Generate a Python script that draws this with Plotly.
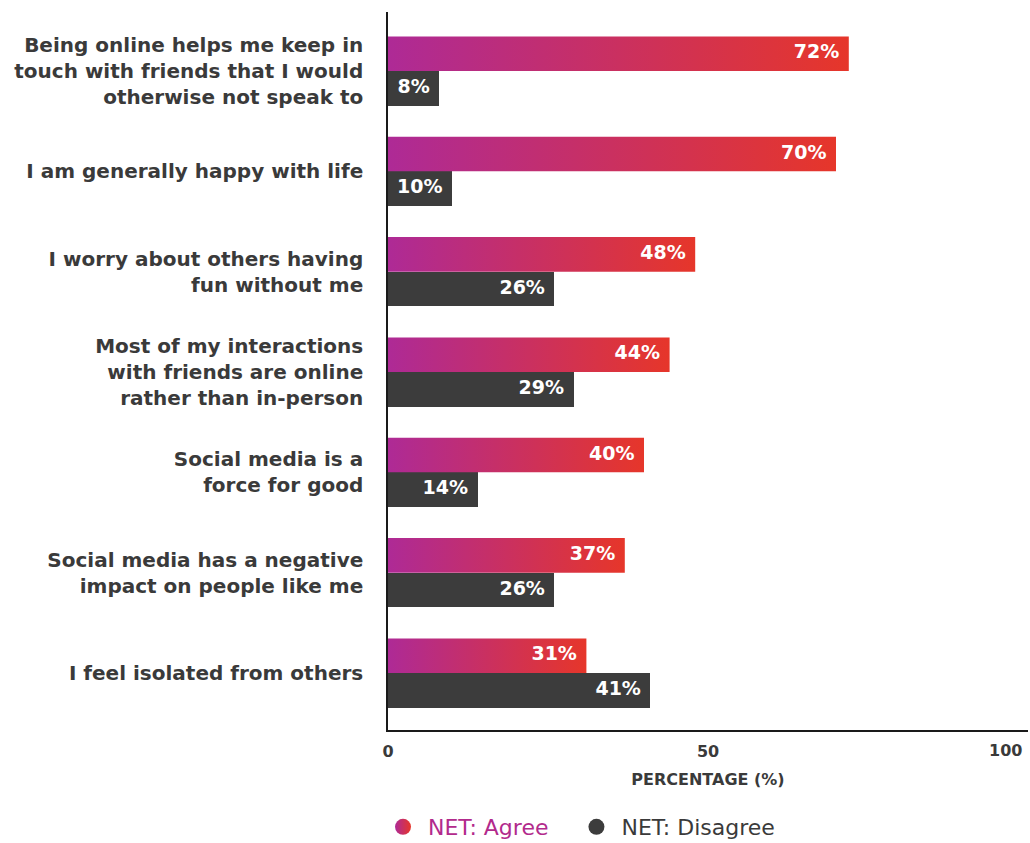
import plotly.graph_objects as go

categories = [
    "Being online helps me keep in<br>touch with friends that I would<br>otherwise not speak to",
    "I am generally happy with life",
    "I worry about others having<br>fun without me",
    "Most of my interactions<br>with friends are online<br>rather than in-person",
    "Social media is a<br>force for good",
    "Social media has a negative<br>impact on people like me",
    "I feel isolated from others",
]
agree = [72, 70, 48, 44, 40, 37, 31]
disagree = [8, 10, 26, 29, 14, 26, 41]
x_tickvals = [0, 50, 100]
x_ticktext = ["0", "50", "100"]

AGREE_LEFT = "#ae2a96"
AGREE_RIGHT = "#e6362a"
DIS_COLOR = "#3c3c3c"
TEXT_COLOR = "#3a3a3a"
FONT = "DejaVu Sans"
BW = 0.345

n = len(categories)
centers = [n - 1 - i for i in range(n)]

fig = go.Figure()

# Agree bars as gradient-filled polygons (one per bar so each gradient spans its own bar)
for c, v in zip(centers, agree):
    fig.add_trace(go.Scatter(
        x=[0, v, v, 0, 0],
        y=[c, c, c + BW, c + BW, c],
        mode="lines",
        line=dict(width=0),
        fill="toself",
        fillgradient=dict(type="horizontal",
                          colorscale=[[0, AGREE_LEFT], [1, AGREE_RIGHT]]),
        showlegend=False,
        hoverinfo="skip",
    ))

# Disagree bars
fig.add_trace(go.Bar(
    x=disagree,
    y=[c - BW / 2 for c in centers],
    width=BW,
    orientation="h",
    marker=dict(color=DIS_COLOR, line=dict(width=0)),
    showlegend=False,
    hovertemplate="%{x}%<extra>NET: Disagree</extra>",
))

# Value labels
label_font = dict(family=FONT, size=19, color="white", weight="bold")
fig.add_trace(go.Scatter(
    x=agree,
    y=[c + BW / 2 for c in centers],
    mode="text",
    text=[f"{v}%\u2002" for v in agree],
    textposition="middle left",
    textfont=label_font,
    showlegend=False,
    hoverinfo="skip",
))
fig.add_trace(go.Scatter(
    x=disagree,
    y=[c - BW / 2 for c in centers],
    mode="text",
    text=[f"{v}%\u2002" for v in disagree],
    textposition="middle left",
    textfont=label_font,
    showlegend=False,
    hoverinfo="skip",
))

# Legend entries
fig.add_trace(go.Scatter(
    x=[None], y=[None], mode="markers",
    name="<span style='color:#b22a8c'>NET: Agree</span>\u2002\u00a0",
    marker=dict(symbol="circle", size=30, color=AGREE_LEFT,
                gradient=dict(type="horizontal", color=AGREE_RIGHT)),
))
fig.add_trace(go.Scatter(
    x=[None], y=[None], mode="markers",
    name="NET: Disagree",
    marker=dict(symbol="circle", size=30, color=DIS_COLOR),
))

tick_font = dict(family=FONT, size=16, color=TEXT_COLOR, weight="bold")

fig.update_layout(
    template="none",
    width=1030,
    height=843,
    margin=dict(l=388, r=2, t=12, b=113),
    paper_bgcolor="white",
    plot_bgcolor="white",
    font=dict(family=FONT, color=TEXT_COLOR),
    showlegend=True,
    legend=dict(
        orientation="h",
        x=-0.0156, xanchor="left",
        yref="container",
        y=0.019, yanchor="middle",
        font=dict(family=FONT, size=22, color=TEXT_COLOR),
        itemsizing="trace",
        itemwidth=40,
        traceorder="normal",
        bgcolor="rgba(0,0,0,0)",
    ),
    xaxis=dict(
        range=[0, 100],
        tickvals=x_tickvals[:-1],
        ticktext=x_ticktext[:-1],
        showgrid=False,
        zeroline=False,
        showline=True,
        linecolor="#1a1a1a",
        linewidth=1.5,
        ticks="",
        ticklabelstandoff=6,
        tickfont=tick_font,
        title=dict(text="PERCENTAGE (%)",
                   font=dict(family=FONT, size=16, color=TEXT_COLOR, weight="bold"),
                   standoff=14),
        automargin=False,
        fixedrange=True,
    ),
    yaxis=dict(
        range=[-0.568, 6.588],
        tickvals=centers,
        ticktext=categories,
        showgrid=False,
        zeroline=False,
        showline=True,
        linecolor="#1a1a1a",
        linewidth=1.5,
        ticks="",
        ticklabelstandoff=19,
        tickfont=dict(family=FONT, size=20, color=TEXT_COLOR, weight="bold"),
        automargin=False,
        fixedrange=True,
    ),
    annotations=[dict(
        x=x_tickvals[-1], xref="x",
        y=0, yref="paper",
        text=x_ticktext[-1],
        showarrow=False,
        xanchor="right", yanchor="top",
        xshift=-4, yshift=-9,
        font=tick_font,
    )],
    bargap=0,
)

fig.write_html(
    "out.html",
    config={"displayModeBar": False},
    post_script="document.body.style.margin='0';document.body.style.overflow='hidden';",
)
